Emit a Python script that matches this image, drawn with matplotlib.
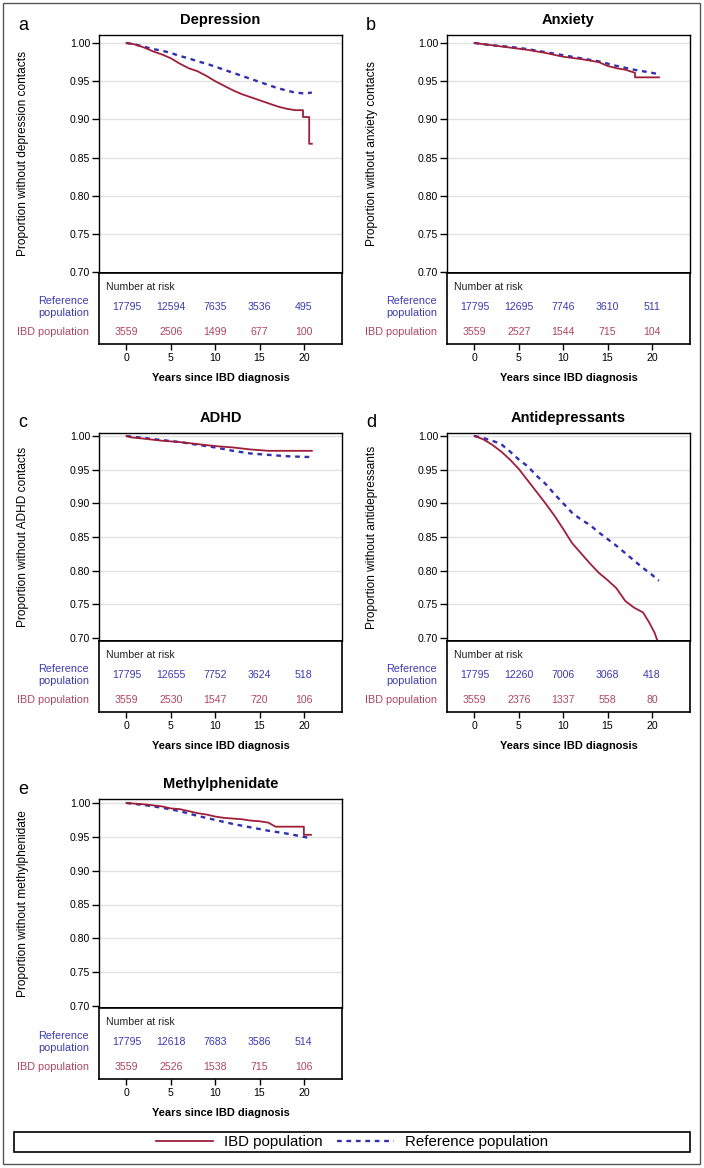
import matplotlib
matplotlib.use("Agg")
import matplotlib.pyplot as plt
from matplotlib.patches import Rectangle
from matplotlib.lines import Line2D

plt.rcParams['font.family'] = ['Liberation Sans', 'DejaVu Sans']

W, H = 704, 1168
RED = '#9E1F3A'
BLUE = '#3030B0'
RED_TXT = '#B0455E'
BLUE_TXT = '#3B3BB0'

# ---- data ----
dep_ibd_t = [0, 1, 2, 3, 4, 5, 6, 7, 8, 9, 10, 11, 12, 13, 14, 15, 16, 17, 18, 19, 19.9, 19.9, 20.6, 20.6, 20.9]
dep_ibd_s = [1.0, 0.998, 0.994, 0.989, 0.985, 0.980, 0.973, 0.967, 0.963, 0.957, 0.950, 0.944, 0.938,
             0.933, 0.929, 0.925, 0.921, 0.917, 0.914, 0.912, 0.912, 0.903, 0.903, 0.868, 0.868]
dep_ref_t = [0, 1, 2, 3, 4, 5, 6, 7, 8, 9, 10, 11, 12, 13, 14, 15, 16, 17, 18, 19, 20, 20.9]
dep_ref_s = [1.0, 0.998, 0.995, 0.992, 0.990, 0.987, 0.983, 0.980, 0.976, 0.973, 0.969, 0.965, 0.961,
             0.957, 0.953, 0.949, 0.945, 0.941, 0.938, 0.935, 0.934, 0.935]

anx_ibd_t = [0, 2, 4, 6, 8, 10, 12, 14, 15, 16, 17, 18.1, 18.1, 20.8]
anx_ibd_s = [1.0, 0.997, 0.994, 0.991, 0.987, 0.982, 0.979, 0.975, 0.970, 0.967, 0.965, 0.961, 0.955, 0.955]
anx_ref_t = [0, 2, 4, 6, 8, 10, 12, 14, 16, 18, 20, 20.8]
anx_ref_s = [1.0, 0.997, 0.995, 0.992, 0.988, 0.984, 0.980, 0.976, 0.970, 0.965, 0.961, 0.959]

adhd_ibd_t = [0, 0.5, 2, 4, 6, 8, 10, 12, 14, 15, 16, 20.9]
adhd_ibd_s = [1.0, 0.998, 0.996, 0.993, 0.991, 0.988, 0.985, 0.983, 0.980, 0.979, 0.978, 0.978]
adhd_ref_t = [0, 2, 4, 6, 8, 10, 12, 14, 16, 18, 20, 20.9]
adhd_ref_s = [1.0, 0.997, 0.994, 0.991, 0.987, 0.983, 0.978, 0.974, 0.972, 0.970, 0.969, 0.9687]

ad_ibd_t = [0, 1, 2, 3, 4, 5, 6, 7, 8, 9, 10, 11, 12, 13, 14, 15, 16, 17, 18, 19, 19.7, 20.3, 20.6]
ad_ibd_s = [1.0, 0.995, 0.987, 0.977, 0.965, 0.951, 0.934, 0.917, 0.900, 0.882, 0.862, 0.841, 0.826,
            0.811, 0.797, 0.786, 0.774, 0.755, 0.745, 0.738, 0.723, 0.708, 0.697]
ad_ref_t = [0, 1, 2, 3, 4, 5, 6, 7, 8, 9, 10, 11, 12, 13, 14, 15, 16, 17, 18, 19, 20, 20.8]
ad_ref_s = [1.0, 0.997, 0.993, 0.988, 0.977, 0.965, 0.955, 0.941, 0.929, 0.914, 0.900, 0.886, 0.876,
            0.868, 0.857, 0.847, 0.837, 0.826, 0.815, 0.804, 0.794, 0.785]

mph_ibd_t = [0, 2, 4, 5, 6, 7, 8, 9, 10, 11, 12, 13, 14, 15, 16, 16.8, 20.0, 20.0, 20.8]
mph_ibd_s = [1.0, 0.998, 0.995, 0.992, 0.991, 0.988, 0.985, 0.983, 0.980, 0.978, 0.977, 0.976, 0.974,
             0.973, 0.971, 0.965, 0.965, 0.953, 0.953]
mph_ref_t = [0, 2, 4, 6, 8, 10, 12, 14, 16, 18, 20, 20.7]
mph_ref_s = [1.0, 0.997, 0.993, 0.988, 0.981, 0.975, 0.969, 0.964, 0.959, 0.955, 0.950, 0.948]

risk_years = [0, 5, 10, 15, 20]
dep_risk_ref = [17795, 12594, 7635, 3536, 495]
dep_risk_ibd = [3559, 2506, 1499, 677, 100]
anx_risk_ref = [17795, 12695, 7746, 3610, 511]
anx_risk_ibd = [3559, 2527, 1544, 715, 104]
adhd_risk_ref = [17795, 12655, 7752, 3624, 518]
adhd_risk_ibd = [3559, 2530, 1547, 720, 106]
ad_risk_ref = [17795, 12260, 7006, 3068, 418]
ad_risk_ibd = [3559, 2376, 1337, 558, 80]
mph_risk_ref = [17795, 12618, 7683, 3586, 514]
mph_risk_ibd = [3559, 2526, 1538, 715, 106]

titles = ['Depression', 'Anxiety', 'ADHD', 'Antidepressants', 'Methylphenidate']
letters = ['a', 'b', 'c', 'd', 'e']
ylabels = ['Proportion without depression contacts', 'Proportion without anxiety contacts',
           'Proportion without ADHD contacts', 'Proportion without antidepressants',
           'Proportion without methylphenidate']
yticks = [0.70, 0.75, 0.80, 0.85, 0.90, 0.95, 1.00]

# pixel layout: (left, right), (top, y at 1.00, y at 0.70, separator, bottom)
cols = [(99, 342), (447, 690)]
rows = [(35, 43, 272, 273, 344), (433, 436, 638, 641, 712), (799, 803, 1006, 1008, 1079)]

fig = plt.figure(figsize=(W / 100, H / 100), dpi=100)


def px_axes(x0, x1, y0, y1):
    return fig.add_axes([x0 / W, 1 - y1 / H, (x1 - x0) / W, (y1 - y0) / H])


def panel(i, ibd_t, ibd_s, ref_t, ref_s, risk_ref, risk_ibd):
    x0, x1 = cols[i % 2]
    top, y100, y070, sep, bot = rows[i // 2]
    scale = 0.3 / (y070 - y100)
    ax = px_axes(x0, x1, top, sep)
    ax.set_xlim(-3.1, 24.3)
    ax.set_ylim(0.70 - (sep - y070) * scale, 1.0 + (y100 - top) * scale)
    for y in yticks[1:]:
        ax.axhline(y, color='#E2E2E2', lw=1, zorder=0)
    ax.plot(ref_t, ref_s, color=BLUE, lw=1.7, ls=(0, (2.0, 2.0)), zorder=3)
    ax.plot(ibd_t, ibd_s, color=RED, lw=1.3, zorder=4)
    ax.set_yticks(yticks)
    ax.set_yticklabels(['%.2f' % v for v in yticks], fontsize=7.6)
    ax.tick_params(axis='y', direction='out', length=5, width=1, pad=1.5)
    ax.tick_params(axis='x', bottom=False, labelbottom=False)
    for s in ax.spines.values():
        s.set_linewidth(1.0)
    ax.spines['bottom'].set_linewidth(1.4)
    ax.set_ylabel(ylabels[i], fontsize=8.6)
    lab_edge = 29 if i % 2 == 0 else 378
    ax.yaxis.set_label_coords((lab_edge - x0) / (x1 - x0), 0.5)

    fig.text((x0 + x1) / 2 / W, 1 - (top - 15) / H, titles[i], fontsize=10.5,
             fontweight='bold', ha='center', va='center')
    fig.text((x0 - 81) / W, 1 - (top - 10) / H, letters[i], fontsize=13,
             ha='left', va='center')

    rk = px_axes(x0, x1, sep, bot)
    rk.set_xlim(-3.1, 24.3)
    rk.set_ylim(bot - sep, 0)
    rk.set_yticks([])
    rk.set_xticks(risk_years)
    rk.tick_params(axis='x', direction='out', length=4.5, width=1, pad=2, labelsize=7.6)
    for s in rk.spines.values():
        s.set_linewidth(1.2)
    rk.text(7 / (x1 - x0), 14, 'Number at risk', fontsize=7.6, ha='left', va='center',
            transform=rk.get_yaxis_transform(), color='#222222')
    lab_x = -10 / (x1 - x0)
    rk.text(lab_x, 34, 'Reference\npopulation', fontsize=7.8, ha='right', va='center',
            transform=rk.get_yaxis_transform(), color=BLUE_TXT, multialignment='right',
            linespacing=1.15)
    rk.text(lab_x, 59, 'IBD population', fontsize=7.8, ha='right', va='center',
            transform=rk.get_yaxis_transform(), color=RED_TXT)
    for yr, n in zip(risk_years, risk_ref):
        rk.text(yr, 34, str(n), fontsize=7.6, ha='center', va='center', color=BLUE_TXT)
    for yr, n in zip(risk_years, risk_ibd):
        rk.text(yr, 59, str(n), fontsize=7.6, ha='center', va='center', color=RED_TXT)
    fig.text((x0 + x1) / 2 / W, 1 - (bot + 34) / H, 'Years since IBD diagnosis', fontsize=7.9,
             fontweight='bold', ha='center', va='center')


panel(0, dep_ibd_t, dep_ibd_s, dep_ref_t, dep_ref_s, dep_risk_ref, dep_risk_ibd)
panel(1, anx_ibd_t, anx_ibd_s, anx_ref_t, anx_ref_s, anx_risk_ref, anx_risk_ibd)
panel(2, adhd_ibd_t, adhd_ibd_s, adhd_ref_t, adhd_ref_s, adhd_risk_ref, adhd_risk_ibd)
panel(3, ad_ibd_t, ad_ibd_s, ad_ref_t, ad_ref_s, ad_risk_ref, ad_risk_ibd)
panel(4, mph_ibd_t, mph_ibd_s, mph_ref_t, mph_ref_s, mph_risk_ref, mph_risk_ibd)

# outer frame and legend box
fig.patches.append(Rectangle((3 / W, 1 - 1164 / H), 697 / W, 1161 / H, transform=fig.transFigure,
                             fill=False, edgecolor='#555555', lw=1.0))
fig.patches.append(Rectangle((14 / W, 1 - 1152 / H), 676 / W, 20 / H, transform=fig.transFigure,
                             fill=False, edgecolor='black', lw=1.2))
handles = [Line2D([], [], color=RED, lw=1.3),
           Line2D([], [], color=BLUE, lw=1.7, ls=(0, (2.0, 2.0)))]
fig.legend(handles, ['IBD population', 'Reference population'], loc='center',
           bbox_to_anchor=(352 / W, 1 - 1142 / H), ncol=2, frameon=False, fontsize=10.8,
           handlelength=3.8, handletextpad=0.75, columnspacing=0.9)

plt.savefig('out.png', dpi=100)
plt.close()
